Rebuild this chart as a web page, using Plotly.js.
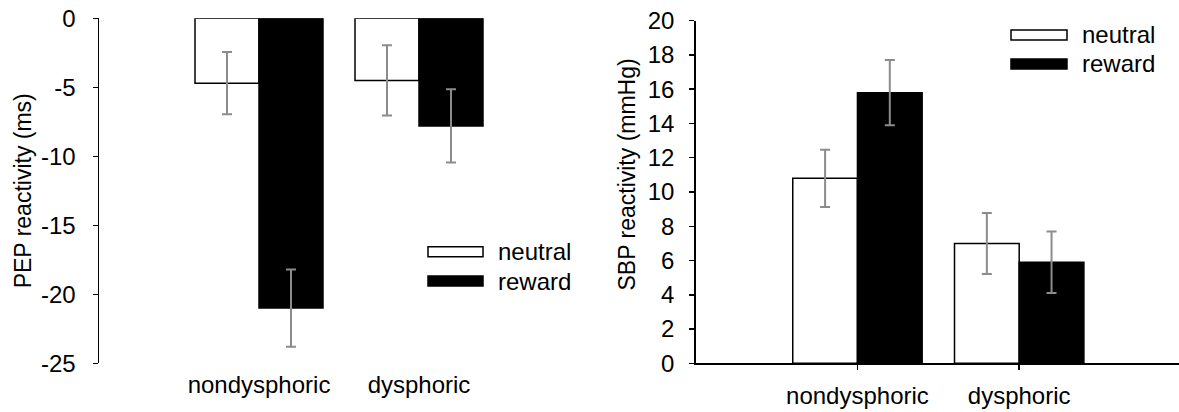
<!DOCTYPE html>
<html>
<head>
<meta charset="utf-8">
<script src="https://cdn.plot.ly/plotly-3.0.1.min.js"></script>
<style>html,body{margin:0;padding:0;background:#fff;} #chart{width:1179px;height:412px;}</style>
</head>
<body>
<div id="chart"></div>
<script>
// ---- data ----
const categories = ['nondysphoric', 'dysphoric'];
const seriesNames = ['neutral', 'reward'];
const pepNeutral = [-4.7, -4.5];
const pepNeutralErr = [2.25, 2.55];
const pepReward = [-21.0, -7.8];
const pepRewardErr = [2.8, 2.65];
const sbpNeutral = [10.8, 7.0];
const sbpNeutralErr = [1.67, 1.78];
const sbpReward = [15.8, 5.9];
const sbpRewardErr = [1.9, 1.8];
const pepTickVals = [0, -5, -10, -15, -20, -25];
const pepTickText = ['0', '-5', '-10', '-15', '-20', '-25'];
const sbpTickVals = [0, 2, 4, 6, 8, 10, 12, 14, 16, 18, 20];
const sbpTickText = ['0', '2', '4', '6', '8', '10', '12', '14', '16', '18', '20'];
const pepTitle = 'PEP reactivity (ms)';
const sbpTitle = 'SBP reactivity (mmHg)';

// ---- style ----
const FONT = 'Liberation Sans, Arial, sans-serif';
const errStyle = arr => ({type: 'data', array: arr, visible: true, color: '#8c8c8c', thickness: 2, width: 5});
const neutralMarker = {color: '#ffffff', line: {color: '#000000', width: 1.5}};
const rewardMarker = {color: '#000000', line: {color: '#000000', width: 1.5}};

const traces = [
  {type: 'bar', name: seriesNames[0], x: categories, y: pepNeutral, error_y: errStyle(pepNeutralErr), marker: neutralMarker, xaxis: 'x', yaxis: 'y', showlegend: false},
  {type: 'bar', name: seriesNames[1], x: categories, y: pepReward, error_y: errStyle(pepRewardErr), marker: rewardMarker, xaxis: 'x', yaxis: 'y', showlegend: false},
  {type: 'bar', name: seriesNames[0], x: categories, y: sbpNeutral, error_y: errStyle(sbpNeutralErr), marker: neutralMarker, xaxis: 'x2', yaxis: 'y2', showlegend: false},
  {type: 'bar', name: seriesNames[1], x: categories, y: sbpReward, error_y: errStyle(sbpRewardErr), marker: rewardMarker, xaxis: 'x2', yaxis: 'y2', showlegend: false}
];

const W = 1179, H = 412;
const px = v => v / W;
const py = v => 1 - v / H;

const tickFont = {family: FONT, size: 24, color: '#000'};
const titleFont = {family: FONT, size: 23, color: '#000'};

// custom legend (swatch + label), paper coordinates
const legends = [
  {x0: 428, x1: 483, y: 251.7, tx: 496, name: seriesNames[0], fill: '#ffffff'},
  {x0: 428, x1: 483, y: 281, tx: 496, name: seriesNames[1], fill: '#000000'},
  {x0: 1011, x1: 1067, y: 35, tx: 1080, name: seriesNames[0], fill: '#ffffff'},
  {x0: 1011, x1: 1067, y: 64, tx: 1080, name: seriesNames[1], fill: '#000000'}
];
const shapes = legends.map(l => ({
  type: 'rect', xref: 'paper', yref: 'paper',
  x0: px(l.x0), x1: px(l.x1), y0: py(l.y - 5), y1: py(l.y + 5),
  fillcolor: l.fill, line: {color: '#000', width: 1.5}
}));
const annotations = legends.map(l => ({
  xref: 'paper', yref: 'paper', x: px(l.tx), y: py(l.y),
  xanchor: 'left', yanchor: 'middle', showarrow: false,
  text: l.name, font: {family: FONT, size: 24, color: '#000'}
}));
// right-panel y-axis title (sits above the axis middle in the original)
annotations.push({
  xref: 'paper', yref: 'paper', x: px(626), y: py(174.5),
  xanchor: 'center', yanchor: 'middle', textangle: -90, showarrow: false,
  text: sbpTitle, font: titleFont
});

const layout = {
  width: W, height: H,
  margin: {l: 0, r: 0, t: 0, b: 0},
  paper_bgcolor: '#fff', plot_bgcolor: '#fff',
  barmode: 'group', bargap: 0.2, bargroupgap: 0,
  showlegend: false,
  font: {family: FONT, size: 24, color: '#000'},
  xaxis: {
    domain: [px(99), px(579)], anchor: 'y', type: 'category', range: [-1, 2],
    showline: false, ticks: '', showgrid: false, zeroline: false,
    tickfont: tickFont, ticklabelstandoff: 5
  },
  xaxis3: {
    domain: [px(99), px(579)], anchor: 'y', overlaying: 'x', side: 'top',
    range: [-1, 2], showline: true, linecolor: '#000', linewidth: 1.5,
    ticks: '', showticklabels: false, showgrid: false, zeroline: false
  },
  yaxis: {
    domain: [py(363.3), py(18.3)], anchor: 'x', range: [-25, 0],
    tickvals: pepTickVals, ticktext: pepTickText,
    showline: true, linecolor: '#000', linewidth: 1.5,
    ticks: 'outside', ticklen: 5, tickwidth: 1.5, tickcolor: '#000',
    showgrid: false, zeroline: false, tickfont: tickFont, ticklabelstandoff: 12,
    title: {text: pepTitle, font: titleFont, standoff: 3}
  },
  xaxis2: {
    domain: [px(695.7), 1], anchor: 'y2', type: 'category', range: [-1, 1.988],
    showline: true, linecolor: '#000', linewidth: 1.5,
    ticks: 'outside', ticklen: 5, tickwidth: 1.5, tickcolor: '#000',
    showgrid: false, zeroline: false, tickfont: tickFont, ticklabelstandoff: 5
  },
  yaxis2: {
    domain: [py(363.3), py(20.7)], anchor: 'x2', range: [0, 20],
    tickvals: sbpTickVals, ticktext: sbpTickText,
    showline: true, linecolor: '#000', linewidth: 1.5,
    ticks: 'outside', ticklen: 5, tickwidth: 1.5, tickcolor: '#000',
    showgrid: false, zeroline: false, tickfont: tickFont, ticklabelstandoff: 10
  },
  shapes: shapes,
  annotations: annotations
};

Plotly.newPlot('chart', traces, layout, {staticPlot: true, displayModeBar: false});
</script>
</body>
</html>
